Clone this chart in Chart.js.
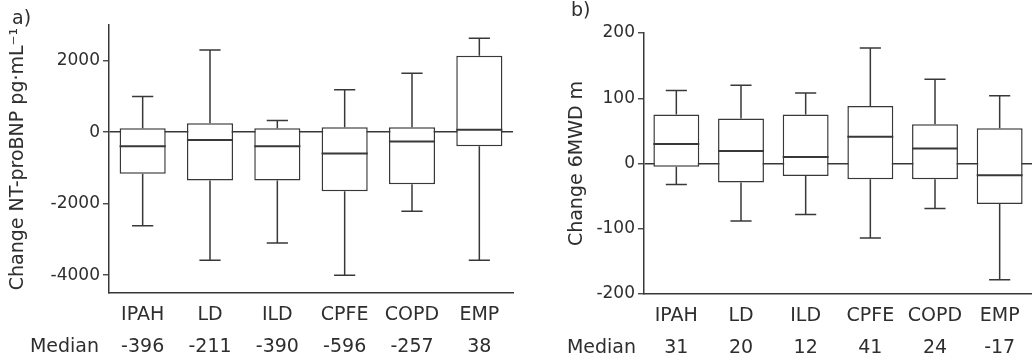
<!DOCTYPE html>
<html>
<head>
<meta charset="utf-8">
<script src="https://cdn.jsdelivr.net/npm/chart.js"></script>
<style>
  html, body { margin: 0; padding: 0; background: #fff; }
  .panel { position: absolute; top: 0; width: 516px; height: 360px; }
  #panelA { left: 0; }
  #panelB { left: 516px; }
</style>
</head>
<body>
<div class="panel" id="panelA"><canvas id="chartA" width="516" height="360"></canvas></div>
<div class="panel" id="panelB"><canvas id="chartB" width="516" height="360"></canvas></div>
<script>
// categories
const groups = ['IPAH', 'LD', 'ILD', 'CPFE', 'COPD', 'EMP'];

// a) change in NT-proBNP (pg/mL)
const ntMin = [-2620, -3580, -3100, -4000, -2210, -3580];
const ntQ1 = [-1160, -1350, -1350, -1650, -1460, -390];
const ntMedian = [-390, -220, -390, -595, -260, 70];
const ntQ3 = [110, 250, 110, 140, 140, 2140];
const ntMax = [1000, 2300, 330, 1190, 1650, 2630];
const ntMedianText = ['-396', '-211', '-390', '-596', '-257', '38'];
const ntTicks = [-4000, -2000, 0, 2000];

// b) change in 6MWD (m)
const wdMin = [-32, -88, -78, -114, -69, -178];
const wdQ1 = [-5, -29, -19, -24, -24, -62];
const wdMedian = [30, 19, 10, 41, 23, -18];
const wdQ3 = [75, 69, 75, 88, 60, 54];
const wdMax = [112, 120, 108, 177, 129, 104];
const wdMedianText = ['31', '20', '12', '41', '24', '-17'];
const wdTicks = [-200, -100, 0, 100, 200];

const ink = '#383838';
const textInk = '#2e2e2e';
const fontFamily = "'DejaVu Sans', sans-serif";

Chart.defaults.color = textInk;
Chart.defaults.font.family = fontFamily;

// whiskers, caps, median lines and the text bits around the plot
const boxPlugin = {
    id: 'boxExtras',
    afterDatasetsDraw(chart, args, opts) {
        const ctx = chart.ctx;
        const x = chart.scales.x;
        const y = chart.scales.y;
        const meta = chart.getDatasetMeta(0);
        ctx.save();
        ctx.strokeStyle = ink;
        meta.data.forEach((bar, i) => {
            const cx = x.getPixelForValue(i);
            const half = bar.width / 2;
            const cap = bar.width * 0.23;
            const yMin = y.getPixelForValue(opts.min[i]);
            const yMax = y.getPixelForValue(opts.max[i]);
            const yQ1 = y.getPixelForValue(opts.q1[i]);
            const yQ3 = y.getPixelForValue(opts.q3[i]);
            const yMed = y.getPixelForValue(opts.median[i]);

            ctx.lineWidth = 1.5;
            ctx.beginPath();
            ctx.moveTo(cx, yQ3); ctx.lineTo(cx, yMax);
            ctx.moveTo(cx - cap, yMax); ctx.lineTo(cx + cap, yMax);
            ctx.moveTo(cx, yQ1); ctx.lineTo(cx, yMin);
            ctx.moveTo(cx - cap, yMin); ctx.lineTo(cx + cap, yMin);
            ctx.stroke();

            ctx.lineWidth = 2;
            ctx.beginPath();
            ctx.moveTo(cx - half, yMed); ctx.lineTo(cx + half, yMed);
            ctx.stroke();
        });
        ctx.restore();
    },
    afterDraw(chart, args, opts) {
        const ctx = chart.ctx;
        const x = chart.scales.x;
        const y = chart.scales.y;
        ctx.save();
        ctx.fillStyle = textInk;
        ctx.font = '19px ' + fontFamily;
        ctx.textBaseline = 'middle';
        // panel letter
        ctx.textAlign = 'left';
        ctx.fillText(opts.letter, opts.letterX, opts.letterY);
        // median row
        const rowY = x.top + 6 + 32 * 1.5;
        ctx.textAlign = 'right';
        ctx.fillText('Median', y.right - opts.medianGap, rowY);
        ctx.restore();
    }
};

function makeBoxChart(canvasId, cfg) {
    return new Chart(document.getElementById(canvasId), {
        type: 'bar',
        data: {
            labels: groups.map((g, i) => [g, cfg.medianText[i]]),
            datasets: [{
                data: cfg.q1.map((v, i) => [v, cfg.q3[i]]),
                backgroundColor: '#fff',
                borderColor: ink,
                borderWidth: 1.5,
                borderSkipped: false,
                barPercentage: cfg.barPct,
                categoryPercentage: 1
            }]
        },
        options: {
            responsive: false,
            animation: false,
            layout: { padding: cfg.padding },
            plugins: {
                legend: { display: false },
                tooltip: { enabled: false },
                boxExtras: {
                    min: cfg.min, q1: cfg.q1, median: cfg.median, q3: cfg.q3, max: cfg.max,
                    letter: cfg.letter, letterX: cfg.letterX, letterY: cfg.letterY,
                    medianGap: cfg.medianGap
                }
            },
            scales: {
                x: {
                    grid: { display: false, drawTicks: false },
                    border: { color: ink, width: 1.5 },
                    ticks: {
                        padding: 6,
                        font: { size: 19, lineHeight: 32 / 19 },
                        color: textInk,
                        maxRotation: 0,
                        autoSkip: false
                    },
                    afterFit: s => { s.height = cfg.xHeight; }
                },
                y: {
                    min: cfg.yMin,
                    max: cfg.yMax,
                    afterBuildTicks: s => { s.ticks = cfg.ticks.map(v => ({ value: v })); },
                    grid: {
                        drawOnChartArea: true,
                        color: c => (c.tick && c.tick.value === 0) ? ink : 'rgba(0,0,0,0)',
                        lineWidth: 1.5,
                        tickColor: ink,
                        tickLength: 6,
                        tickWidth: 1.3
                    },
                    border: { color: ink, width: 1.5 },
                    ticks: {
                        padding: 3,
                        font: { size: 17 },
                        color: textInk,
                        callback: v => String(v)
                    },
                    title: {
                        display: true,
                        text: cfg.title,
                        font: { size: 19 },
                        color: textInk,
                        padding: { top: cfg.titlePad, bottom: 0 }
                    },
                    afterFit: s => { s.width = cfg.yWidth; }
                }
            }
        },
        plugins: [boxPlugin]
    });
}

makeBoxChart('chartA', {
    min: ntMin, q1: ntQ1, median: ntMedian, q3: ntQ3, max: ntMax,
    medianText: ntMedianText, ticks: ntTicks,
    yMin: -4500, yMax: 3000,
    title: 'Change NT-proBNP pg\u00B7mL\u207B\u00B9',
    titlePad: 7,
    padding: { top: 25, right: 3, left: 0, bottom: 0 },
    yWidth: 109, xHeight: 67, barPct: 0.685,
    letter: 'a)', letterX: 12, letterY: 19, medianGap: 10
});

makeBoxChart('chartB', {
    min: wdMin, q1: wdQ1, median: wdMedian, q3: wdQ3, max: wdMax,
    medianText: wdMedianText, ticks: wdTicks,
    yMin: -200, yMax: 200,
    title: 'Change 6MWD m',
    titlePad: 50,
    padding: { top: 33, right: 0, left: 0, bottom: 0 },
    yWidth: 128, xHeight: 66, barPct: 0.71,
    letter: 'b)', letterX: 55, letterY: 11, medianGap: 8
});
</script>
</body>
</html>
